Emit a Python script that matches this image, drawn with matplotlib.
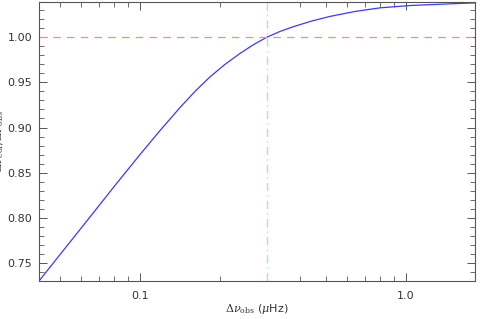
import matplotlib
matplotlib.use("Agg")
import matplotlib.pyplot as plt
from matplotlib.ticker import MultipleLocator, FixedLocator, LogLocator, NullFormatter

# ---- values ----
dnu_obs = [0.0417, 0.0520, 0.0649, 0.0805, 0.100, 0.1189, 0.1413, 0.1609,
           0.1832, 0.2087, 0.2377, 0.2670, 0.2999, 0.3357, 0.3758, 0.4409,
           0.5176, 0.6427, 0.7980, 1.0351, 1.3428, 1.5614, 1.8155]
ratio = [0.7300, 0.7655, 0.8010, 0.8358, 0.8700, 0.8966, 0.9220, 0.9399,
         0.9560, 0.9699, 0.9820, 0.9917, 1.0000, 1.0063, 1.0115, 1.0178,
         1.0230, 1.0285, 1.0325, 1.0351, 1.0365, 1.0373, 1.0380]
x_mark = 0.30
xticks = [0.1, 1.0]
xtick_labels = ["0.1", "1.0"]

plt.rcParams['font.family'] = ['DejaVu Sans']
plt.rcParams['mathtext.fontset'] = 'dejavuserif'

fig = plt.figure(figsize=(4.8, 3.19), dpi=100)
ax = fig.add_axes([39/480, 1 - 281/319, 436/480, 279/319])

ax.plot(dnu_obs, ratio, color='#3a3aff', lw=0.9)
ax.axhline(1.0, color='#f4926a', lw=0.9, ls=(0, (6, 5)))
ax.axvline(x_mark, color='#a8f0a8', lw=1.0, ls=(0, (6, 3, 1, 3)))

ax.set_xscale('log')
ax.set_xlim(0.0417, 1.82)
ax.set_ylim(0.73, 1.039)

ax.xaxis.set_major_locator(FixedLocator(xticks))
ax.set_xticklabels(xtick_labels)
ax.xaxis.set_minor_locator(LogLocator(base=10, subs=range(2, 10)))
ax.xaxis.set_minor_formatter(NullFormatter())
ax.yaxis.set_major_locator(MultipleLocator(0.05))
ax.yaxis.set_minor_locator(MultipleLocator(0.01))
ax.yaxis.set_major_formatter(matplotlib.ticker.FormatStrFormatter('%.2f'))

gray = '#555555'
for s in ax.spines.values():
    s.set_color(gray)
    s.set_linewidth(0.8)
ax.tick_params(which='both', direction='in', top=True, right=True,
               color=gray, labelcolor='#333333', labelsize=8)
ax.tick_params(which='major', length=6, width=0.7)
ax.tick_params(which='minor', length=3.5, width=0.6)
ax.tick_params(axis='x', pad=7)
ax.tick_params(axis='y', pad=5)

ax.set_xlabel(r'$\Delta\nu_{\rm obs}$ ($\mu$Hz)', fontsize=8, color='#333333', labelpad=1)
# y label is mostly off the left edge in the original
ax.set_ylabel(r'$\Delta\nu_{\rm cor}/\Delta\nu_{\rm obs}$', fontsize=8, color='#333333')
ax.yaxis.set_label_coords(-0.075, 0.5)

fig.savefig("out.png", dpi=100)
